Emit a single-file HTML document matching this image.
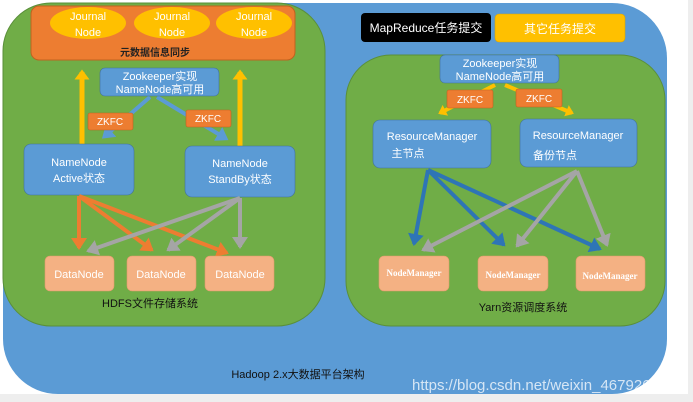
<!DOCTYPE html>
<html><head><meta charset="utf-8"><style>
html,body{margin:0;padding:0;background:#fff;}
svg{display:block;font-family:"Liberation Sans","Noto Sans CJK SC",sans-serif;}
</style></head><body>
<svg width="693" height="402" viewBox="0 0 693 402" xmlns="http://www.w3.org/2000/svg">
<defs>
<marker id="ao" markerWidth="4" markerHeight="4" refX="2.5" refY="2" orient="auto" markerUnits="strokeWidth"><path d="M0,0 L3,2 L0,4z" fill="#ed7d31"/></marker>
<marker id="ag" markerWidth="4" markerHeight="4" refX="2.5" refY="2" orient="auto" markerUnits="strokeWidth"><path d="M0,0 L3,2 L0,4z" fill="#a5a5a5"/></marker>
<marker id="ab" markerWidth="4" markerHeight="4" refX="2.5" refY="2" orient="auto" markerUnits="strokeWidth"><path d="M0,0 L3,2 L0,4z" fill="#2e75b6"/></marker>
<marker id="ay" markerWidth="3" markerHeight="3" refX="1.5" refY="1.5" orient="auto" markerUnits="strokeWidth"><path d="M0,0 L2,1.5 L0,3z" fill="#ffc000"/></marker>
<marker id="al" markerWidth="3" markerHeight="4" refX="2" refY="2" orient="auto" markerUnits="strokeWidth"><path d="M0,0 L3,2 L0,4z" fill="#5b9bd5"/></marker>
</defs>
<rect x="0" y="0" width="693" height="402" fill="#fff"/>
<rect x="0" y="394" width="693" height="8" fill="#eeeeee"/>
<rect x="688" y="0" width="5" height="402" fill="#eeeeee"/>
<rect x="3" y="3" width="664" height="391" rx="55" fill="#5b9bd5"/>
<rect x="3" y="3" width="322" height="323" rx="48" fill="#70ad47" stroke="#5a8f3a"/>
<rect x="346" y="55" width="319" height="271" rx="45" fill="#70ad47" stroke="#5a8f3a"/>
<!-- left top -->
<rect x="31" y="6" width="264" height="54" rx="8" fill="#ed7d31" stroke="#c0621f"/>
<g fill="#ffc000"><ellipse cx="88" cy="23" rx="38" ry="16"/><ellipse cx="172" cy="23" rx="38" ry="16"/><ellipse cx="254" cy="23" rx="38" ry="16"/></g>
<g fill="#fff" font-size="11" text-anchor="middle"><text x="88" y="20">Journal</text><text x="88" y="36">Node</text><text x="172" y="20">Journal</text><text x="172" y="36">Node</text><text x="254" y="20">Journal</text><text x="254" y="36">Node</text></g>
<text x="155" y="56" font-size="10" font-weight="bold" text-anchor="middle" fill="#222">元数据信息同步</text>
<line x1="82" y1="144" x2="82" y2="72" stroke="#ffc000" stroke-width="5" marker-end="url(#ay)"/>
<line x1="240" y1="146" x2="240" y2="72" stroke="#ffc000" stroke-width="5" marker-end="url(#ay)"/>
<line x1="150" y1="97" x2="105" y2="136" stroke="#5b9bd5" stroke-width="4" marker-end="url(#al)"/>
<line x1="157" y1="97" x2="225" y2="138" stroke="#5b9bd5" stroke-width="4" marker-end="url(#al)"/>
<rect x="100" y="68" width="119" height="28" rx="5" fill="#5b9bd5" stroke="#41719c" stroke-width=".6"/>
<text x="160" y="80" font-size="11" fill="#fff" text-anchor="middle">Zookeeper实现</text>
<text x="160" y="93" font-size="11" fill="#fff" text-anchor="middle">NameNode高可用</text>
<rect x="88" y="113" width="45" height="17" rx="2" fill="#ed7d31" stroke="#c0621f" stroke-width=".6"/>
<text x="110" y="125" font-size="10" fill="#fff" text-anchor="middle">ZKFC</text>
<rect x="186" y="110" width="45" height="17" rx="2" fill="#ed7d31" stroke="#c0621f" stroke-width=".6"/>
<text x="208" y="122" font-size="10" fill="#fff" text-anchor="middle">ZKFC</text>
<rect x="24" y="144" width="110" height="51" rx="7" fill="#5b9bd5" stroke="#41719c" stroke-width=".6"/>
<text x="79" y="166" font-size="11" fill="#fff" text-anchor="middle">NameNode</text>
<text x="79" y="182" font-size="11" fill="#fff" text-anchor="middle">Active状态</text>
<rect x="185" y="146" width="110" height="51" rx="7" fill="#5b9bd5" stroke="#41719c" stroke-width=".6"/>
<text x="240" y="167" font-size="11" fill="#fff" text-anchor="middle">NameNode</text>
<text x="240" y="183" font-size="11" fill="#fff" text-anchor="middle">StandBy状态</text>
<!-- hdfs arrows -->
<g stroke="#ed7d31" stroke-width="4" fill="none">
<line x1="79" y1="196" x2="79" y2="248" marker-end="url(#ao)"/>
<line x1="79" y1="196" x2="152" y2="250" marker-end="url(#ao)"/>
<line x1="79" y1="196" x2="227" y2="253" marker-end="url(#ao)"/>
</g>
<g stroke="#a5a5a5" stroke-width="4" fill="none">
<line x1="240" y1="198" x2="88" y2="251" marker-end="url(#ag)"/>
<line x1="240" y1="198" x2="168" y2="250" marker-end="url(#ag)"/>
<line x1="240" y1="198" x2="240" y2="247" marker-end="url(#ag)"/>
</g>
<g fill="#f4b183" stroke="#e09a6a" stroke-width=".6">
<rect x="45" y="256" width="69" height="35" rx="5"/><rect x="127" y="256" width="69" height="35" rx="5"/><rect x="205" y="256" width="69" height="35" rx="5"/></g>
<g fill="#fff" font-size="11" text-anchor="middle"><text x="79" y="278">DataNode</text><text x="161" y="278">DataNode</text><text x="240" y="278">DataNode</text></g>
<text x="150" y="307" font-size="11" fill="#111" text-anchor="middle">HDFS文件存储系统</text>
<!-- right -->
<rect x="361" y="13" width="130" height="29" rx="4" fill="#000"/>
<text x="426" y="32" font-size="12" fill="#fff" text-anchor="middle">MapReduce任务提交</text>
<rect x="495" y="14" width="130" height="28" rx="4" fill="#ffc000" stroke="#d9a300" stroke-width=".6"/>
<text x="560" y="33" font-size="12" fill="#fff" text-anchor="middle">其它任务提交</text>
<line x1="495" y1="85" x2="440" y2="113" stroke="#ffc000" stroke-width="4" marker-end="url(#ay)"/>
<line x1="505" y1="85" x2="572" y2="113" stroke="#ffc000" stroke-width="4" marker-end="url(#ay)"/>
<rect x="440" y="55" width="119" height="28" rx="5" fill="#5b9bd5" stroke="#41719c" stroke-width=".6"/>
<text x="500" y="67" font-size="11" fill="#fff" text-anchor="middle">Zookeeper实现</text>
<text x="500" y="80" font-size="11" fill="#fff" text-anchor="middle">NameNode高可用</text>
<rect x="447" y="90" width="46" height="18" rx="2" fill="#ed7d31" stroke="#c0621f" stroke-width=".6"/>
<text x="470" y="103" font-size="10" fill="#fff" text-anchor="middle">ZKFC</text>
<rect x="516" y="89" width="46" height="18" rx="2" fill="#ed7d31" stroke="#c0621f" stroke-width=".6"/>
<text x="539" y="102" font-size="10" fill="#fff" text-anchor="middle">ZKFC</text>
<rect x="373" y="120" width="118" height="48" rx="7" fill="#5b9bd5" stroke="#41719c" stroke-width=".6"/>
<text x="432" y="140" font-size="11" fill="#fff" text-anchor="middle">ResourceManager</text>
<text x="408" y="157" font-size="11" fill="#fff" text-anchor="middle">主节点</text>
<rect x="520" y="119" width="117" height="48" rx="7" fill="#5b9bd5" stroke="#41719c" stroke-width=".6"/>
<text x="578" y="139" font-size="11" fill="#fff" text-anchor="middle">ResourceManager</text>
<text x="555" y="159" font-size="11" fill="#fff" text-anchor="middle">备份节点</text>
<g stroke="#2e75b6" stroke-width="4" fill="none">
<line x1="428" y1="170" x2="414" y2="244" marker-end="url(#ab)"/>
<line x1="428" y1="170" x2="504" y2="245" marker-end="url(#ab)"/>
<line x1="428" y1="170" x2="600" y2="249" marker-end="url(#ab)"/>
</g>
<g stroke="#a5a5a5" stroke-width="4" fill="none">
<line x1="577" y1="171" x2="423" y2="250" marker-end="url(#ag)"/>
<line x1="577" y1="171" x2="517" y2="246" marker-end="url(#ag)"/>
<line x1="577" y1="171" x2="607" y2="245" marker-end="url(#ag)"/>
</g>
<g fill="#f4b183" stroke="#e09a6a" stroke-width=".6">
<rect x="379" y="256" width="70" height="35" rx="5"/><rect x="478" y="256" width="70" height="35" rx="5"/><rect x="576" y="256" width="69" height="35" rx="5"/></g>
<g fill="#fff" font-size="9" font-family="Liberation Serif,serif" font-weight="bold" text-anchor="middle"><text x="414" y="276">NodeManager</text><text x="513" y="278">NodeManager</text><text x="610" y="279">NodeManager</text></g>
<text x="523" y="311" font-size="11" fill="#111" text-anchor="middle">Yarn资源调度系统</text>
<text x="298" y="378" font-size="11" fill="#111" text-anchor="middle">Hadoop 2.x大数据平台架构</text>
<text x="412" y="390" font-size="15" fill="#ffffff" fill-opacity=".75">https://blog.csdn.net/weixin_46792694</text>
</svg>
</body></html>
